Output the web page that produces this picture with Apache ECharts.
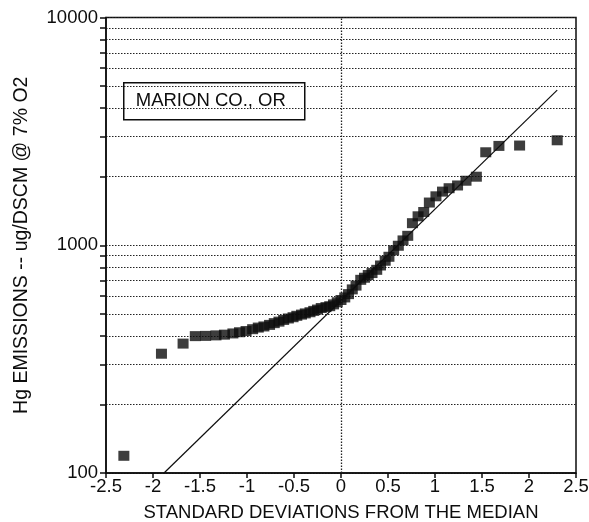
<!DOCTYPE html>
<html>
<head>
<meta charset="utf-8">
<script src="https://cdn.jsdelivr.net/npm/echarts@6/dist/echarts.min.js"></script>
<style>
html,body{margin:0;padding:0;background:#fff;}
#chart{width:589px;height:522px;}
</style>
</head>
<body>
<div id="chart"></div>
<script>
// Standard deviations from the median (x) for each measurement
const sdValues = [-2.31,-1.91,-1.68,-1.55,-1.44,-1.33,-1.24,-1.15,-1.08,-1.01,
  -0.94,-0.88,-0.82,-0.76,-0.71,-0.66,-0.61,-0.56,-0.51,-0.47,
  -0.42,-0.38,-0.33,-0.29,-0.25,-0.21,-0.16,-0.12,-0.08,-0.04,
  0,
  0.04,0.08,0.12,0.16,0.21,0.25,0.29,0.33,0.38,0.42,
  0.47,0.51,0.56,0.61,0.66,0.71,0.76,0.82,0.88,0.94,
  1.01,1.08,1.15,1.24,1.33,1.44,1.54,1.68,1.90,2.30];
// Hg emissions, ug/DSCM @ 7% O2
const emissions = [119,334,370,399,400,402,405,410,415,420,
  428,435,440,447,455,462,470,477,483,490,
  496,502,508,515,522,530,535,540,550,562,
  575,
  590,610,640,665,705,720,740,755,780,815,
  855,890,950,995,1050,1100,1250,1340,1400,1540,
  1640,1720,1780,1830,1920,2000,2560,2730,2740,2890];
// Fitted log-normal line end points
const fitSd = [-1.883, 2.30];
const fitEmission = [100, 4800];
// Axis ticks
const yTickValues = [100,200,300,400,500,600,700,800,900,1000,2000,3000,4000,5000,6000,7000,8000,9000,10000];
const yLabelValues = [100,1000,10000];
const xMedian = 0;
const siteLabel = 'MARION CO., OR';

const points = sdValues.map((x, i) => [x, emissions[i]]);
const fitLine = fitSd.map((x, i) => [x, fitEmission[i]]);

const FONT = '"Liberation Sans", Arial, Helvetica, sans-serif';
const INK = '#0d0d0d';

const chart = echarts.init(document.getElementById('chart'), null, {renderer: 'canvas'});
chart.setOption({
  animation: false,
  backgroundColor: '#fff',
  grid: {
    left: 106, right: 13, top: 17.5, bottom: 49,
    show: true, borderColor: INK, borderWidth: 1.5,
    outerBoundsMode: 'none'
  },
  xAxis: {
    type: 'value', min: -2.5, max: 2.5, interval: 0.5,
    name: 'STANDARD DEVIATIONS FROM THE MEDIAN',
    nameLocation: 'middle', nameGap: 30,
    nameTextStyle: {fontFamily: FONT, fontSize: 18.5, color: INK},
    axisLine: {onZero: false, lineStyle: {color: INK, width: 1.5}},
    axisTick: {show: true, length: 5, lineStyle: {color: INK, width: 1.5}},
    axisLabel: {fontFamily: FONT, fontSize: 18.5, color: INK, margin: 4, showMinLabel: true, showMaxLabel: true},
    splitLine: {show: false}
  },
  yAxis: {
    type: 'log', logBase: 10, min: 100, max: 10000,
    name: 'Hg EMISSIONS -- ug/DSCM @ 7% O2',
    nameLocation: 'middle', nameGap: 74, nameRotate: 90,
    nameTextStyle: {fontFamily: FONT, fontSize: 19.5, color: INK},
    axisLine: {show: true, onZero: false, lineStyle: {color: INK, width: 1.5}},
    axisTick: {show: true, customValues: yTickValues, length: 6, lineStyle: {color: INK, width: 1.5}},
    axisLabel: {customValues: yLabelValues, fontFamily: FONT, fontSize: 18.5, color: INK, margin: 8,
      formatter: v => String(v)},
    splitLine: {show: true, lineStyle: {color: '#222', width: 1, type: [1.5, 1.5]}},
    minorTick: {show: false}
  },
  graphic: [{
    type: 'group', left: 123, top: 82,
    children: [
      {type: 'rect', shape: {x: 0, y: 0, width: 181, height: 37},
       style: {fill: '#fff', stroke: INK, lineWidth: 1.5}},
      {type: 'text', x: 12, y: 18.5,
       style: {text: siteLabel, font: '18.5px ' + FONT, fill: INK, textVerticalAlign: 'middle'}}
    ]
  }],
  series: [
    {
      type: 'scatter',
      data: points,
      symbol: 'rect', symbolSize: [11, 10],
      itemStyle: {color: '#0d0d0d'},
      z: 3,
      markLine: {
        silent: true, symbol: 'none', label: {show: false},
        lineStyle: {color: '#222', width: 1.3, type: [1.5, 1.5]},
        data: [{xAxis: xMedian}]
      }
    },
    {
      type: 'line',
      data: fitLine,
      showSymbol: false, symbol: 'none',
      lineStyle: {color: INK, width: 1.2},
      z: 4
    }
  ]
});
</script>
</body>
</html>
